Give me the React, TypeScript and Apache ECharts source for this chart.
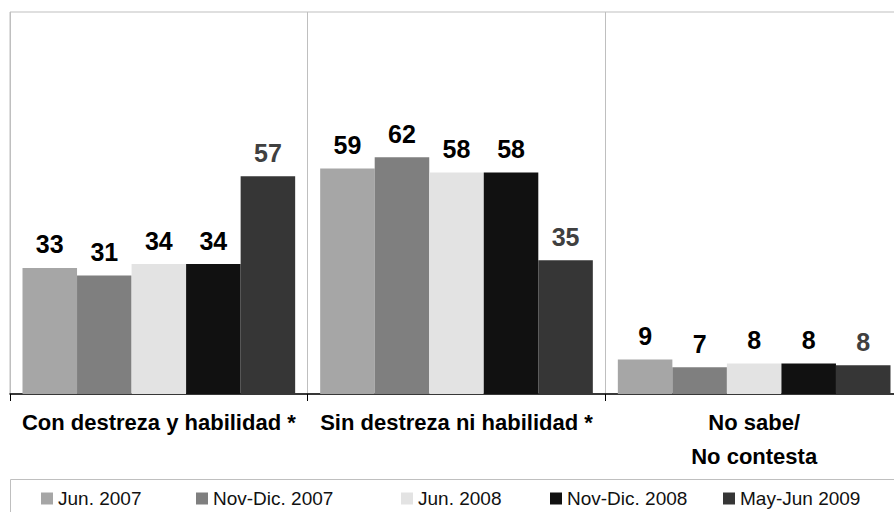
import React, { useEffect, useRef } from "react";
import * as echarts from "echarts";

const categories = ["Con destreza y habilidad *", "Sin destreza ni habilidad *", "No sabe/\nNo contesta"];
const seriesNames = ["Jun. 2007", "Nov-Dic. 2007", "Jun. 2008", "Nov-Dic. 2008", "May-Jun 2009"];
const jun2007 = [33, 59, 9];
const novDic2007 = [31, 62, 7];
const jun2008 = [34, 58, 8];
const novDic2008 = [34, 58, 8];
const mayJun2009 = [57, 35, 7.5];
const seriesValues = [jun2007, novDic2007, jun2008, novDic2008, mayJun2009];
const colors = ["#a6a6a6", "#7f7f7f", "#e3e3e3", "#111111", "#363636"];
const labelColors = ["#000000", "#000000", "#000000", "#000000", "#404040"];
const legendLefts = [41, 196, 401, 550, 723];

const FONT = "'Liberation Sans', Arial, sans-serif";

export default function App() {
  const ref = useRef<HTMLDivElement>(null);
  useEffect(() => {
    if (!ref.current) return;
    const chart = echarts.init(ref.current, undefined, { renderer: "svg" });
    chart.setOption({
      animation: false,
      textStyle: { fontFamily: FONT },
      grid: {
        left: 10,
        top: 12,
        width: 893,
        height: 382,
        outerBoundsMode: "none",
        show: true,
        borderColor: "#bfbfbf",
        borderWidth: 1,
        backgroundColor: "transparent",
      },
      legend: seriesNames.map((n, i) => ({
        data: [n],
        left: legendLefts[i],
        top: 489,
        icon: "rect",
        itemWidth: 12,
        itemHeight: 12,
        itemGap: 6,
        padding: 0,
        textStyle: { fontSize: 19, color: "#111", fontFamily: FONT },
      })),
      xAxis: {
        type: "category",
        data: categories,
        axisLine: { lineStyle: { color: "#000", width: 1.5 } },
        axisTick: { show: true, length: 7, lineStyle: { color: "#000" } },
        splitLine: { show: true, lineStyle: { color: "#bfbfbf", width: 1 } },
        axisLabel: {
          interval: 0,
          fontSize: 22,
          fontWeight: "bold",
          color: "#000",
          margin: 11,
          lineHeight: 34,
          fontFamily: FONT,
        },
      },
      yAxis: {
        type: "value",
        min: 0,
        max: 100,
        show: false,
        splitLine: { show: false },
      },
      graphic: [
        {
          type: "rect",
          shape: { x: 10.5, y: 479.5, width: 900, height: 60 },
          style: { fill: "none", stroke: "#bfbfbf", lineWidth: 1 },
          silent: true,
        },
      ],
      series: seriesNames.map((n, i) => ({
        name: n,
        type: "bar",
        data: seriesValues[i],
        barGap: "0%",
        barCategoryGap: "8.4%",
        itemStyle: { color: colors[i] },
        label: {
          show: true,
          position: "top",
          distance: 11,
          fontSize: 25,
          fontWeight: "bold",
          color: labelColors[i],
          fontFamily: FONT,
          formatter: (p: any) => String(Math.round(p.value)),
        },
      })),
    });
    return () => chart.dispose();
  }, []);
  return (
    <div style={{ position: "fixed", left: 0, top: 0, width: 894, height: 512, overflow: "hidden", background: "#fff" }}>
      <div ref={ref} style={{ width: 904, height: 512 }} />
    </div>
  );
}
